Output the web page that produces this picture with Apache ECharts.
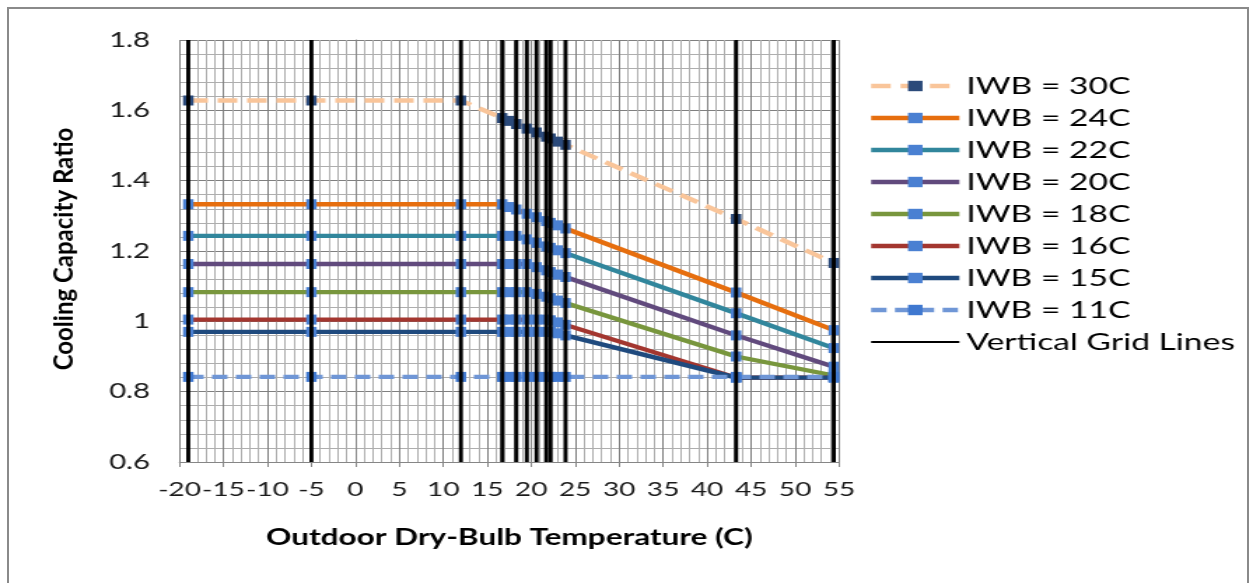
<!DOCTYPE html>
<html>
<head>
<meta charset="utf-8">
<script src="https://cdn.jsdelivr.net/npm/echarts@6/dist/echarts.min.js"></script>
<style>
html,body{margin:0;padding:0;background:#fff;overflow:hidden;width:1251px;height:583px;}
#frame{position:absolute;left:7px;top:7px;width:1242px;height:590px;border:2px solid #8a8a8a;box-sizing:border-box;}
#chart{position:absolute;left:0;top:0;width:894px;height:583px;transform:scaleX(1.4);transform-origin:0 0;}
</style>
</head>
<body>
<div id="frame"></div>
<div id="chart"></div>
<script>
// ---- data ----
const temps = [-19, -5, 12, 16.7, 17.5, 18.3, 19.5, 20.6, 21.7, 22.2, 23.0, 23.9, 43.3, 54.4];
const iwb30 = [1.628, 1.628, 1.628, 1.578, 1.570, 1.561, 1.548, 1.537, 1.525, 1.520, 1.511, 1.502, 1.291, 1.166];
const iwb24 = [1.333, 1.333, 1.333, 1.333, 1.325, 1.318, 1.306, 1.296, 1.285, 1.280, 1.273, 1.264, 1.082, 0.975];
const iwb22 = [1.243, 1.243, 1.243, 1.243, 1.243, 1.243, 1.233, 1.223, 1.213, 1.209, 1.202, 1.194, 1.023, 0.924];
const iwb20 = [1.163, 1.163, 1.163, 1.163, 1.163, 1.163, 1.163, 1.154, 1.145, 1.140, 1.133, 1.126, 0.960, 0.871];
const iwb18 = [1.083, 1.083, 1.083, 1.083, 1.083, 1.083, 1.083, 1.078, 1.070, 1.066, 1.059, 1.052, 0.900, 0.846];
const iwb16 = [1.005, 1.005, 1.005, 1.005, 1.005, 1.005, 1.005, 1.005, 1.005, 1.003, 0.997, 0.990, 0.840, 0.840];
const iwb15 = [0.970, 0.970, 0.970, 0.970, 0.970, 0.970, 0.970, 0.970, 0.970, 0.970, 0.966, 0.960, 0.840, 0.840];
const iwb11 = [0.842, 0.842, 0.842, 0.842, 0.842, 0.842, 0.842, 0.842, 0.842, 0.842, 0.842, 0.842, 0.842, 0.842];
const seriesNames = ['IWB = 30C', 'IWB = 24C', 'IWB = 22C', 'IWB = 20C', 'IWB = 18C', 'IWB = 16C', 'IWB = 15C', 'IWB = 11C'];
const gridLineName = 'Vertical Grid Lines';
const gridLineTemps = [-19, -5, 12, 16.7, 18.3, 19.5, 20.6, 21.7, 22.2, 23.9, 43.3, 54.4];
const gridLineSpan = [0.6, 1.8];
const xTicks = {min: -20, max: 55, step: 5};
const yTicks = {min: 0.6, max: 1.8, step: 0.2};
const xTitle = 'Outdoor Dry-Bulb Temperature (C)';
const yTitle = 'Cooling Capacity Ratio';

// ---- styles ----
const SX = 1.4;
const values = [iwb30, iwb24, iwb22, iwb20, iwb18, iwb16, iwb15, iwb11];
const lineColors = ['#f9c59a', '#e66e0e', '#31869c', '#614a7d', '#78963d', '#a3362f', '#1f4a7e', '#6f96d6'];
const markerColors = ['#2b4a7a', '#4a80d2', '#4a80d2', '#4a80d2', '#4a80d2', '#4a80d2', '#4a80d2', '#3f78d0'];
const lineTypes = [[14, 7], 'solid', 'solid', 'solid', 'solid', 'solid', 'solid', [11, 6]];
const FONT = 'Lato, "Open Sans", sans-serif';

const series = values.map((vals, i) => ({
  name: seriesNames[i],
  type: 'line',
  data: temps.map((t, k) => [t, vals[k]]),
  symbol: 'rect',
  symbolSize: [7.5, 10],
  showAllSymbol: true,
  itemStyle: {color: markerColors[i]},
  lineStyle: {color: lineColors[i], width: 4.3, type: lineTypes[i]},
  emphasis: {disabled: true},
  z: 2
}));

const vData = [];
gridLineTemps.forEach(t => { vData.push([t, gridLineSpan[0]]); vData.push([t, gridLineSpan[1]]); vData.push([t, '-']); });
series.push({
  name: gridLineName,
  type: 'line',
  data: vData,
  symbol: 'none',
  connectNulls: false,
  itemStyle: {color: '#000'},
  lineStyle: {color: '#000', width: 2.9},
  emphasis: {disabled: true},
  z: 3
});

const legendData = seriesNames.map((n, i) => ({name: n, lineStyle: {width: 4.5, color: lineColors[i], type: lineTypes[i]}}));
legendData.push({name: gridLineName, lineStyle: {width: 2, color: '#000'}, itemStyle: {color: 'rgba(0,0,0,0)', borderWidth: 0, opacity: 0}});

const chart = echarts.init(document.getElementById('chart'), null, {renderer: 'canvas'});
chart.setOption({
  animation: false,
  backgroundColor: 'transparent',
  grid: {left: 128.2, top: 40, width: 471.1, height: 422},
  legend: {
    orient: 'vertical', left: 615, top: 69,
    itemWidth: 63, itemHeight: 13, itemGap: 8,
    data: legendData,
    selectedMode: false,
    textStyle: {fontFamily: FONT, fontSize: 24, lineHeight: 24, color: '#000'}
  },
  xAxis: {
    type: 'value', min: xTicks.min, max: xTicks.max, interval: xTicks.step,
    axisLine: {show: true, onZero: false, lineStyle: {color: '#868686', width: 1}},
    axisTick: {show: true, length: 5, lineStyle: {color: '#868686'}},
    axisLabel: {fontFamily: FONT, fontSize: 20, color: '#1a1a1a', margin: 18},
    splitLine: {show: true, lineStyle: {color: '#7f7f7f', width: 1}},
    minorTick: {show: false, splitNumber: 5},
    minorSplitLine: {show: true, lineStyle: {color: '#aeaeae', width: 1}},
    name: xTitle, nameLocation: 'middle', nameGap: 64,
    nameTextStyle: {fontFamily: FONT, fontWeight: 'bold', fontSize: 22.5, color: '#000'}
  },
  yAxis: {
    type: 'value', min: yTicks.min, max: yTicks.max, interval: yTicks.step,
    axisLine: {show: true, lineStyle: {color: '#868686', width: 1}},
    axisTick: {show: false},
    axisLabel: {fontFamily: FONT, fontSize: 21, color: '#1a1a1a', margin: 21,
      formatter: v => String(Math.round(v * 10) / 10)},
    splitLine: {show: true, lineStyle: {color: '#7f7f7f', width: 1}},
    minorTick: {show: false, splitNumber: 5},
    minorSplitLine: {show: true, lineStyle: {color: '#aeaeae', width: 1}}
  },
  graphic: [{
    type: 'text',
    x: 64 / SX, y: 249,
    rotation: Math.PI / 2,
    scaleY: 1.05 / SX,
    style: {text: yTitle, font: 'bold 24px ' + FONT, fill: '#000', align: 'center', verticalAlign: 'middle'}
  }],
  series: series
});
</script>
</body>
</html>
